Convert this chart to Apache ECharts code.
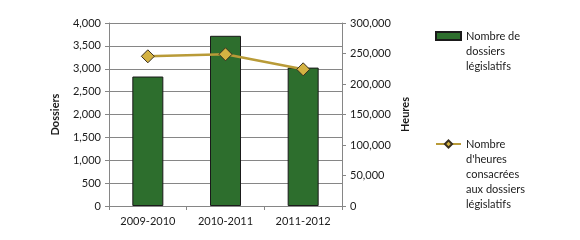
<!DOCTYPE html>
<html>
<head>
<meta charset="utf-8">
<script src="https://cdn.jsdelivr.net/npm/echarts@6/dist/echarts.min.js"></script>
<style>
  html, body { margin: 0; padding: 0; background: #fff; }
  #chart { width: 580px; height: 240px; }
</style>
</head>
<body>
<div id="chart"></div>
<script>
(function () {

    // données
    var annees = ['2009-2010', '2010-2011', '2011-2012'];
    var dossiers = [2830, 3720, 3025];
    var heures = [245400, 248700, 224100];

    var nomDossiers = 'Nombre de\ndossiers\nlégislatifs';
    var nomHeures = 'Nombre\nd\'heures\nconsacrées\naux dossiers\nlégislatifs';

    var police = 'Lato, "Open Sans", sans-serif';
    var gris = '#868686';

    // lignes vides devant le texte : la première ligne reste en face du symbole
    var enHaut = function (nom) {
        var n = nom.split('\n').length - 1;
        return new Array(n + 1).join('\n') + nom;
    };

    var myChart = echarts.init(document.getElementById('chart'));

    var option = {
        animation: false,
        textStyle: { fontFamily: police },
        grid: {
            left: 109,
            right: 238,
            top: 23,
            bottom: 34
        },
        legend: [
            {
                data: [nomDossiers],
                icon: 'rect',
                orient: 'vertical',
                left: 435,
                top: -1.5,
                padding: 0,
                itemWidth: 25,
                itemHeight: 8,
                formatter: enHaut,
                textStyle: { fontFamily: police, fontSize: 11, color: '#1a1a1a', lineHeight: 15 }
            },
            {
                data: [nomHeures],
                orient: 'vertical',
                left: 435,
                top: 76.5,
                padding: 0,
                itemWidth: 25,
                itemHeight: 9,
                formatter: enHaut,
                textStyle: { fontFamily: police, fontSize: 11, color: '#1a1a1a', lineHeight: 15 }
            }
        ],
        xAxis: [
            {
                type: 'category',
                data: annees,
                axisLine: { lineStyle: { color: gris } },
                axisTick: { show: true, length: 4, lineStyle: { color: gris } },
                axisLabel: { fontSize: 11, color: '#1a1a1a', margin: 10 }
            }
        ],
        yAxis: [
            {
                type: 'value',
                name: 'Dossiers',
                nameLocation: 'middle',
                nameGap: 48,
                nameTextStyle: { fontWeight: 'bold', fontSize: 11, color: '#1a1a1a' },
                min: 0,
                max: 4000,
                interval: 500,
                axisLine: { show: true, lineStyle: { color: gris } },
                axisTick: { show: true, length: 4, lineStyle: { color: gris } },
                axisLabel: {
                    fontSize: 11, color: '#1a1a1a', margin: 8,
                    formatter: function (v) { return v.toLocaleString('en-US'); }
                },
                splitLine: { lineStyle: { color: gris } }
            },
            {
                type: 'value',
                name: 'Heures',
                nameLocation: 'middle',
                nameGap: 58,
                nameTextStyle: { fontWeight: 'bold', fontSize: 11, color: '#1a1a1a' },
                min: 0,
                max: 300000,
                interval: 50000,
                axisLine: { show: true, lineStyle: { color: gris } },
                axisTick: { show: true, length: 4, lineStyle: { color: gris } },
                axisLabel: {
                    fontSize: 11, color: '#1a1a1a', margin: 8,
                    formatter: function (v) { return v.toLocaleString('en-US'); }
                },
                splitLine: { show: false }
            }
        ],
        series: [
            {
                name: nomDossiers,
                type: 'bar',
                yAxisIndex: 0,
                barWidth: 31,
                data: dossiers,
                itemStyle: { color: '#2D6E2D', borderColor: '#1a1a1a', borderWidth: 1 }
            },
            {
                name: nomHeures,
                type: 'line',
                yAxisIndex: 1,
                data: heures,
                symbol: 'diamond',
                symbolSize: 13,
                lineStyle: { color: '#B99B38', width: 2.5 },
                itemStyle: { color: '#D4B242', borderColor: '#3a3020', borderWidth: 1 }
            }
        ]
    };

    myChart.setOption(option);
}());
</script>
</body>
</html>
